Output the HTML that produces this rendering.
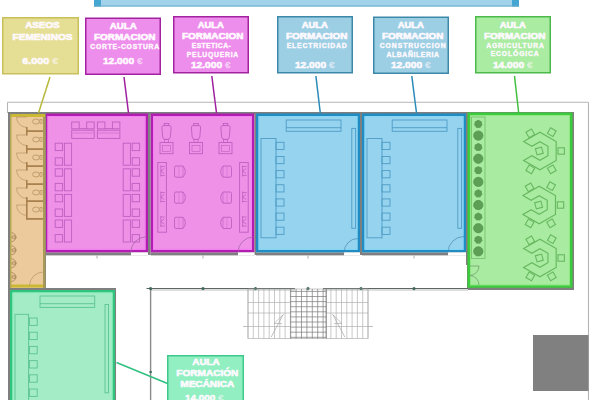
<!DOCTYPE html>
<html><head><meta charset="utf-8"><style>
html,body{margin:0;padding:0;background:#fff;width:600px;height:400px;overflow:hidden}
svg{display:block}
text{font-family:"Liberation Sans",sans-serif;font-weight:bold}
</style></head><body>
<svg width="600" height="400" viewBox="0 0 600 400">
<rect x="94" y="0" width="425" height="6.5" fill="#a2d3ea" stroke="none" stroke-width="1" />
<rect x="94" y="0" width="7" height="6.5" fill="#45a6d2" stroke="none" stroke-width="1" />
<rect x="512" y="0" width="7" height="6.5" fill="#45a6d2" stroke="none" stroke-width="1" />
<line x1="94" y1="6" x2="519" y2="6" stroke="#62a9c9" stroke-width="1" />
<line x1="7.5" y1="102.3" x2="588.5" y2="102.3" stroke="#b4b4b4" stroke-width="1.1" />
<line x1="588.5" y1="102.3" x2="588.5" y2="400" stroke="#b4b4b4" stroke-width="1.1" />
<line x1="7.5" y1="102.3" x2="7.5" y2="113" stroke="#b4b4b4" stroke-width="1.1" />
<rect x="8" y="112" width="565" height="2.5" fill="#7f7f7f" stroke="none" stroke-width="1" />
<rect x="45" y="252.4" width="103" height="3" fill="#7f7f7f" stroke="none" stroke-width="1" />
<rect x="46.25" y="114.75" width="100.5" height="136.4" fill="#ee91e7" stroke="#b01db0" stroke-width="2.5" />
<rect x="48.0" y="116.5" width="97.0" height="132.9" fill="none" stroke="#f77ef5" stroke-width="1" />
<rect x="150.5" y="252.4" width="104.0" height="3" fill="#7f7f7f" stroke="none" stroke-width="1" />
<rect x="151.75" y="114.75" width="101.5" height="136.4" fill="#ee91e7" stroke="#b01db0" stroke-width="2.5" />
<rect x="153.5" y="116.5" width="98.0" height="132.9" fill="none" stroke="#f77ef5" stroke-width="1" />
<rect x="256" y="252.4" width="104" height="3" fill="#7f7f7f" stroke="none" stroke-width="1" />
<rect x="257.25" y="114.75" width="101.5" height="136.4" fill="#95d3ee" stroke="#1f8dc4" stroke-width="2.5" />
<rect x="259.0" y="116.5" width="98.0" height="132.9" fill="none" stroke="#86d6f6" stroke-width="1" />
<rect x="362" y="252.4" width="104" height="3" fill="#7f7f7f" stroke="none" stroke-width="1" />
<rect x="363.25" y="114.75" width="101.5" height="136.4" fill="#95d3ee" stroke="#1f8dc4" stroke-width="2.5" />
<rect x="365.0" y="116.5" width="98.0" height="132.9" fill="none" stroke="#86d6f6" stroke-width="1" />
<rect x="148" y="112" width="2.5" height="143" fill="#7f7f7f" stroke="none" stroke-width="1" />
<rect x="254.5" y="112" width="1.5" height="143" fill="#7f7f7f" stroke="none" stroke-width="1" />
<rect x="360" y="112" width="2" height="143" fill="#7f7f7f" stroke="none" stroke-width="1" />
<rect x="466" y="112" width="1.5" height="153" fill="#7f7f7f" stroke="none" stroke-width="1" />
<rect x="131" y="252.4" width="17" height="3.2" fill="#fff" stroke="none" stroke-width="1" />
<rect x="238" y="252.4" width="16.5" height="3.2" fill="#fff" stroke="none" stroke-width="1" />
<rect x="344" y="252.4" width="16" height="3.2" fill="#fff" stroke="none" stroke-width="1" />
<rect x="448" y="252.4" width="18" height="3.2" fill="#fff" stroke="none" stroke-width="1" />
<rect x="467" y="112" width="107" height="178" fill="#7f7f7f" stroke="none" stroke-width="1" />
<rect x="468.75" y="113.75" width="102.5" height="172.75" fill="#a9eba0" stroke="#3ccb3c" stroke-width="2.5" />
<rect x="470.5" y="115.5" width="99" height="169.25" fill="none" stroke="#8fe784" stroke-width="1" />
<rect x="8" y="112" width="38" height="178" fill="#7f7f7f" stroke="none" stroke-width="1" />
<rect x="10" y="114" width="35" height="174" fill="#ecca9b" stroke="none" stroke-width="1" />
<rect x="10" y="114" width="35" height="3" fill="#cbb934" stroke="none" stroke-width="1" />
<rect x="10" y="284.5" width="35" height="3" fill="#cbb934" stroke="none" stroke-width="1" />
<rect x="10" y="114" width="1.5" height="174" fill="#b8aa50" stroke="none" stroke-width="1" />
<rect x="43" y="117" width="2.5" height="171" fill="#a99a58" stroke="none" stroke-width="1" />
<rect x="8" y="288" width="108" height="115" fill="#7f7f7f" stroke="none" stroke-width="1" />
<rect x="11.25" y="291.25" width="102.5" height="115" fill="#a3ecc5" stroke="#2fc57c" stroke-width="2.5" />
<rect x="13" y="293" width="99" height="115" fill="none" stroke="#8ff0c0" stroke-width="1" />
<rect x="71.7" y="122" width="7.5" height="6.8" fill="none" stroke="#bf5fc0" stroke-width="0.9" />
<rect x="86.7" y="122" width="7.5" height="6.8" fill="none" stroke="#bf5fc0" stroke-width="0.9" />
<line x1="79.2" y1="128.6" x2="86.7" y2="128.6" stroke="#bf5fc0" stroke-width="0.9" />
<rect x="71.7" y="130.2" width="22.5" height="8.2" fill="none" stroke="#bf5fc0" stroke-width="0.9" />
<line x1="72.7" y1="133" x2="93.2" y2="133" stroke="#bf5fc0" stroke-width="0.5" />
<rect x="97.4" y="122" width="7.5" height="6.8" fill="none" stroke="#bf5fc0" stroke-width="0.9" />
<rect x="112.4" y="122" width="7.5" height="6.8" fill="none" stroke="#bf5fc0" stroke-width="0.9" />
<line x1="104.9" y1="128.6" x2="112.4" y2="128.6" stroke="#bf5fc0" stroke-width="0.9" />
<rect x="97.4" y="130.2" width="22.5" height="8.2" fill="none" stroke="#bf5fc0" stroke-width="0.9" />
<line x1="98.4" y1="133" x2="118.9" y2="133" stroke="#bf5fc0" stroke-width="0.5" />
<rect x="55.2" y="143.2" width="7.4" height="7.4" fill="none" stroke="#bf5fc0" stroke-width="0.9" />
<rect x="55.2" y="157.79999999999998" width="7.4" height="7.4" fill="none" stroke="#bf5fc0" stroke-width="0.9" />
<rect x="64.4" y="143.2" width="7.2" height="22" fill="none" stroke="#bf5fc0" stroke-width="0.9" />
<rect x="132.2" y="143.2" width="7.4" height="7.4" fill="none" stroke="#bf5fc0" stroke-width="0.9" />
<rect x="132.2" y="157.79999999999998" width="7.4" height="7.4" fill="none" stroke="#bf5fc0" stroke-width="0.9" />
<rect x="123.2" y="143.2" width="7.2" height="22" fill="none" stroke="#bf5fc0" stroke-width="0.9" />
<rect x="55.2" y="168.79999999999998" width="7.4" height="7.4" fill="none" stroke="#bf5fc0" stroke-width="0.9" />
<rect x="55.2" y="183.39999999999998" width="7.4" height="7.4" fill="none" stroke="#bf5fc0" stroke-width="0.9" />
<rect x="64.4" y="168.79999999999998" width="7.2" height="22" fill="none" stroke="#bf5fc0" stroke-width="0.9" />
<rect x="132.2" y="168.79999999999998" width="7.4" height="7.4" fill="none" stroke="#bf5fc0" stroke-width="0.9" />
<rect x="132.2" y="183.39999999999998" width="7.4" height="7.4" fill="none" stroke="#bf5fc0" stroke-width="0.9" />
<rect x="123.2" y="168.79999999999998" width="7.2" height="22" fill="none" stroke="#bf5fc0" stroke-width="0.9" />
<rect x="55.2" y="194.39999999999998" width="7.4" height="7.4" fill="none" stroke="#bf5fc0" stroke-width="0.9" />
<rect x="55.2" y="208.99999999999997" width="7.4" height="7.4" fill="none" stroke="#bf5fc0" stroke-width="0.9" />
<rect x="64.4" y="194.39999999999998" width="7.2" height="22" fill="none" stroke="#bf5fc0" stroke-width="0.9" />
<rect x="132.2" y="194.39999999999998" width="7.4" height="7.4" fill="none" stroke="#bf5fc0" stroke-width="0.9" />
<rect x="132.2" y="208.99999999999997" width="7.4" height="7.4" fill="none" stroke="#bf5fc0" stroke-width="0.9" />
<rect x="123.2" y="194.39999999999998" width="7.2" height="22" fill="none" stroke="#bf5fc0" stroke-width="0.9" />
<rect x="55.2" y="220.0" width="7.4" height="7.4" fill="none" stroke="#bf5fc0" stroke-width="0.9" />
<rect x="55.2" y="234.6" width="7.4" height="7.4" fill="none" stroke="#bf5fc0" stroke-width="0.9" />
<rect x="64.4" y="220.0" width="7.2" height="22" fill="none" stroke="#bf5fc0" stroke-width="0.9" />
<rect x="132.2" y="220.0" width="7.4" height="7.4" fill="none" stroke="#bf5fc0" stroke-width="0.9" />
<rect x="132.2" y="234.6" width="7.4" height="7.4" fill="none" stroke="#bf5fc0" stroke-width="0.9" />
<rect x="123.2" y="220.0" width="7.2" height="22" fill="none" stroke="#bf5fc0" stroke-width="0.9" />
<rect x="164.2" y="123.5" width="4.6" height="2" fill="none" stroke="#bf5fc0" stroke-width="0.9" />
<path d="M161.9,128 Q161.5,125.6 163.7,125.6 L169.3,125.6 Q171.5,125.6 171.1,128 L170.3,137 Q169.9,139.4 167.9,139.4 L165.1,139.4 Q163.1,139.4 162.7,137 Z" fill="none" stroke="#bf5fc0" stroke-width="0.9" />
<rect x="164.5" y="139.4" width="4" height="3" fill="none" stroke="#bf5fc0" stroke-width="0.7" />
<rect x="160.0" y="142.5" width="13" height="11.2" fill="none" stroke="#bf5fc0" stroke-width="0.9" />
<rect x="162.5" y="145.5" width="8" height="6" fill="none" stroke="#bf5fc0" stroke-width="0.6" />
<rect x="193.7" y="123.5" width="4.6" height="2" fill="none" stroke="#bf5fc0" stroke-width="0.9" />
<path d="M191.4,128 Q191,125.6 193.2,125.6 L198.8,125.6 Q201,125.6 200.6,128 L199.8,137 Q199.4,139.4 197.4,139.4 L194.6,139.4 Q192.6,139.4 192.2,137 Z" fill="none" stroke="#bf5fc0" stroke-width="0.9" />
<rect x="194" y="139.4" width="4" height="3" fill="none" stroke="#bf5fc0" stroke-width="0.7" />
<rect x="189.5" y="142.5" width="13" height="11.2" fill="none" stroke="#bf5fc0" stroke-width="0.9" />
<rect x="192" y="145.5" width="8" height="6" fill="none" stroke="#bf5fc0" stroke-width="0.6" />
<rect x="223.2" y="123.5" width="4.6" height="2" fill="none" stroke="#bf5fc0" stroke-width="0.9" />
<path d="M220.9,128 Q220.5,125.6 222.7,125.6 L228.3,125.6 Q230.5,125.6 230.1,128 L229.3,137 Q228.9,139.4 226.9,139.4 L224.1,139.4 Q222.1,139.4 221.7,137 Z" fill="none" stroke="#bf5fc0" stroke-width="0.9" />
<rect x="223.5" y="139.4" width="4" height="3" fill="none" stroke="#bf5fc0" stroke-width="0.7" />
<rect x="219.0" y="142.5" width="13" height="11.2" fill="none" stroke="#bf5fc0" stroke-width="0.9" />
<rect x="221.5" y="145.5" width="8" height="6" fill="none" stroke="#bf5fc0" stroke-width="0.6" />
<rect x="157.8" y="162.5" width="8.6" height="69.7" fill="none" stroke="#bf5fc0" stroke-width="0.9" />
<path d="M160.8,165.5 L160.8,176.5 M160.8,166.5 L164.8,166.5 M160.8,175.5 L164.8,175.5 M160.8,171 L164.3,168.5 M160.8,171 L164.3,173.5" fill="none" stroke="#bf5fc0" stroke-width="0.8" />
<path d="M160.8,191.5 L160.8,202.5 M160.8,192.5 L164.8,192.5 M160.8,201.5 L164.8,201.5 M160.8,197 L164.3,194.5 M160.8,197 L164.3,199.5" fill="none" stroke="#bf5fc0" stroke-width="0.8" />
<path d="M160.8,216.0 L160.8,227.0 M160.8,217.0 L164.8,217.0 M160.8,226.0 L164.8,226.0 M160.8,221.5 L164.3,219.0 M160.8,221.5 L164.3,224.0" fill="none" stroke="#bf5fc0" stroke-width="0.8" />
<rect x="239.6" y="162.5" width="8.6" height="69.7" fill="none" stroke="#bf5fc0" stroke-width="0.9" />
<path d="M242.6,165.5 L242.6,176.5 M242.6,166.5 L246.6,166.5 M242.6,175.5 L246.6,175.5 M242.6,171 L246.1,168.5 M242.6,171 L246.1,173.5" fill="none" stroke="#bf5fc0" stroke-width="0.8" />
<path d="M242.6,191.5 L242.6,202.5 M242.6,192.5 L246.6,192.5 M242.6,201.5 L246.6,201.5 M242.6,197 L246.1,194.5 M242.6,197 L246.1,199.5" fill="none" stroke="#bf5fc0" stroke-width="0.8" />
<path d="M242.6,216.0 L242.6,227.0 M242.6,217.0 L246.6,217.0 M242.6,226.0 L246.6,226.0 M242.6,221.5 L246.1,219.0 M242.6,221.5 L246.1,224.0" fill="none" stroke="#bf5fc0" stroke-width="0.8" />
<path d="M176.0,166 L183.0,166 Q187.7,171.6 183.0,177.2 L176.0,177.2 Q174.5,177.2 174.5,175.7 L174.5,167.5 Q174.5,166 176.0,166 Z" fill="none" stroke="#bf5fc0" stroke-width="0.9" />
<line x1="183.0" y1="166.5" x2="183.0" y2="176.7" stroke="#bf5fc0" stroke-width="0.6" />
<line x1="179.0" y1="167" x2="179.0" y2="176.2" stroke="#bf5fc0" stroke-width="0.4" />
<path d="M230.0,166 L223.0,166 Q218.3,171.6 223.0,177.2 L230.0,177.2 Q231.5,177.2 231.5,175.7 L231.5,167.5 Q231.5,166 230.0,166 Z" fill="none" stroke="#bf5fc0" stroke-width="0.9" />
<line x1="223.0" y1="166.5" x2="223.0" y2="176.7" stroke="#bf5fc0" stroke-width="0.6" />
<line x1="227.0" y1="167" x2="227.0" y2="176.2" stroke="#bf5fc0" stroke-width="0.4" />
<path d="M176.0,192 L183.0,192 Q187.7,197.6 183.0,203.2 L176.0,203.2 Q174.5,203.2 174.5,201.7 L174.5,193.5 Q174.5,192 176.0,192 Z" fill="none" stroke="#bf5fc0" stroke-width="0.9" />
<line x1="183.0" y1="192.5" x2="183.0" y2="202.7" stroke="#bf5fc0" stroke-width="0.6" />
<line x1="179.0" y1="193" x2="179.0" y2="202.2" stroke="#bf5fc0" stroke-width="0.4" />
<path d="M230.0,192 L223.0,192 Q218.3,197.6 223.0,203.2 L230.0,203.2 Q231.5,203.2 231.5,201.7 L231.5,193.5 Q231.5,192 230.0,192 Z" fill="none" stroke="#bf5fc0" stroke-width="0.9" />
<line x1="223.0" y1="192.5" x2="223.0" y2="202.7" stroke="#bf5fc0" stroke-width="0.6" />
<line x1="227.0" y1="193" x2="227.0" y2="202.2" stroke="#bf5fc0" stroke-width="0.4" />
<path d="M176.0,217.3 L183.0,217.3 Q187.7,222.9 183.0,228.5 L176.0,228.5 Q174.5,228.5 174.5,227.0 L174.5,218.8 Q174.5,217.3 176.0,217.3 Z" fill="none" stroke="#bf5fc0" stroke-width="0.9" />
<line x1="183.0" y1="217.8" x2="183.0" y2="228.0" stroke="#bf5fc0" stroke-width="0.6" />
<line x1="179.0" y1="218.3" x2="179.0" y2="227.5" stroke="#bf5fc0" stroke-width="0.4" />
<path d="M230.0,217.3 L223.0,217.3 Q218.3,222.9 223.0,228.5 L230.0,228.5 Q231.5,228.5 231.5,227.0 L231.5,218.8 Q231.5,217.3 230.0,217.3 Z" fill="none" stroke="#bf5fc0" stroke-width="0.9" />
<line x1="223.0" y1="217.8" x2="223.0" y2="228.0" stroke="#bf5fc0" stroke-width="0.6" />
<line x1="227.0" y1="218.3" x2="227.0" y2="227.5" stroke="#bf5fc0" stroke-width="0.4" />
<rect x="286.2" y="120" width="54.8" height="11.3" fill="none" stroke="#4f9cc6" stroke-width="0.9" />
<line x1="286.2" y1="127.7" x2="341" y2="127.7" stroke="#4f9cc6" stroke-width="0.9" />
<rect x="351.8" y="128.4" width="3.8" height="99.9" fill="none" stroke="#4f9cc6" stroke-width="0.9" />
<rect x="261" y="138.5" width="15" height="99.3" fill="none" stroke="#4f9cc6" stroke-width="0.9" />
<rect x="276" y="142.3" width="8" height="7.2" fill="none" stroke="#4f9cc6" stroke-width="0.9" />
<rect x="276" y="156.45000000000002" width="8" height="7.2" fill="none" stroke="#4f9cc6" stroke-width="0.9" />
<rect x="276" y="170.60000000000002" width="8" height="7.2" fill="none" stroke="#4f9cc6" stroke-width="0.9" />
<rect x="276" y="184.75" width="8" height="7.2" fill="none" stroke="#4f9cc6" stroke-width="0.9" />
<rect x="276" y="198.9" width="8" height="7.2" fill="none" stroke="#4f9cc6" stroke-width="0.9" />
<rect x="276" y="213.05" width="8" height="7.2" fill="none" stroke="#4f9cc6" stroke-width="0.9" />
<rect x="276" y="227.20000000000002" width="8" height="7.2" fill="none" stroke="#4f9cc6" stroke-width="0.9" />
<rect x="392.2" y="120" width="54.8" height="11.3" fill="none" stroke="#4f9cc6" stroke-width="0.9" />
<line x1="392.2" y1="127.7" x2="447" y2="127.7" stroke="#4f9cc6" stroke-width="0.9" />
<rect x="457.8" y="128.4" width="3.8" height="99.9" fill="none" stroke="#4f9cc6" stroke-width="0.9" />
<rect x="367" y="138.5" width="15" height="99.3" fill="none" stroke="#4f9cc6" stroke-width="0.9" />
<rect x="382" y="142.3" width="8" height="7.2" fill="none" stroke="#4f9cc6" stroke-width="0.9" />
<rect x="382" y="156.45000000000002" width="8" height="7.2" fill="none" stroke="#4f9cc6" stroke-width="0.9" />
<rect x="382" y="170.60000000000002" width="8" height="7.2" fill="none" stroke="#4f9cc6" stroke-width="0.9" />
<rect x="382" y="184.75" width="8" height="7.2" fill="none" stroke="#4f9cc6" stroke-width="0.9" />
<rect x="382" y="198.9" width="8" height="7.2" fill="none" stroke="#4f9cc6" stroke-width="0.9" />
<rect x="382" y="213.05" width="8" height="7.2" fill="none" stroke="#4f9cc6" stroke-width="0.9" />
<rect x="382" y="227.20000000000002" width="8" height="7.2" fill="none" stroke="#4f9cc6" stroke-width="0.9" />
<rect x="40" y="296" width="54.7" height="11.4" fill="none" stroke="#5cc394" stroke-width="0.9" />
<line x1="40" y1="303.7" x2="94.7" y2="303.7" stroke="#5cc394" stroke-width="0.9" />
<rect x="105" y="304.5" width="3.5" height="88.3" fill="none" stroke="#5cc394" stroke-width="0.9" />
<rect x="15" y="314.3" width="13.6" height="100" fill="none" stroke="#5cc394" stroke-width="0.9" />
<rect x="29.4" y="318.0" width="7.8" height="7.4" fill="none" stroke="#5cc394" stroke-width="0.9" />
<rect x="29.4" y="332.2" width="7.8" height="7.4" fill="none" stroke="#5cc394" stroke-width="0.9" />
<rect x="29.4" y="346.4" width="7.8" height="7.4" fill="none" stroke="#5cc394" stroke-width="0.9" />
<rect x="29.4" y="360.6" width="7.8" height="7.4" fill="none" stroke="#5cc394" stroke-width="0.9" />
<rect x="29.4" y="374.8" width="7.8" height="7.4" fill="none" stroke="#5cc394" stroke-width="0.9" />
<rect x="29.4" y="389.0" width="7.8" height="7.4" fill="none" stroke="#5cc394" stroke-width="0.9" />
<rect x="471.6" y="117" width="13.4" height="141.4" fill="none" stroke="#68b862" stroke-width="0.7" />
<g fill="#5c9f55"><circle cx="478.30" cy="121.60" r="1.75"/><circle cx="480.18" cy="122.50" r="1.75"/><circle cx="480.64" cy="124.53" r="1.75"/><circle cx="479.34" cy="126.16" r="1.75"/><circle cx="477.26" cy="126.16" r="1.75"/><circle cx="475.96" cy="124.53" r="1.75"/><circle cx="476.42" cy="122.50" r="1.75"/><circle cx="478.3" cy="124.0" r="2.4"/></g>
<circle cx="478.3" cy="135.58" r="4.7" fill="#5c9f55" stroke="#4f8f4a" stroke-width="0.6"/>
<g fill="#5c9f55"><circle cx="478.30" cy="144.76" r="1.75"/><circle cx="480.18" cy="145.66" r="1.75"/><circle cx="480.64" cy="147.69" r="1.75"/><circle cx="479.34" cy="149.32" r="1.75"/><circle cx="477.26" cy="149.32" r="1.75"/><circle cx="475.96" cy="147.69" r="1.75"/><circle cx="476.42" cy="145.66" r="1.75"/><circle cx="478.3" cy="147.16" r="2.4"/></g>
<circle cx="478.3" cy="158.74" r="4.7" fill="#5c9f55" stroke="#4f8f4a" stroke-width="0.6"/>
<g fill="#5c9f55"><circle cx="478.30" cy="167.92" r="1.75"/><circle cx="480.18" cy="168.82" r="1.75"/><circle cx="480.64" cy="170.85" r="1.75"/><circle cx="479.34" cy="172.48" r="1.75"/><circle cx="477.26" cy="172.48" r="1.75"/><circle cx="475.96" cy="170.85" r="1.75"/><circle cx="476.42" cy="168.82" r="1.75"/><circle cx="478.3" cy="170.32" r="2.4"/></g>
<circle cx="478.3" cy="181.9" r="4.7" fill="#5c9f55" stroke="#4f8f4a" stroke-width="0.6"/>
<g fill="#5c9f55"><circle cx="478.30" cy="191.08" r="1.75"/><circle cx="480.18" cy="191.98" r="1.75"/><circle cx="480.64" cy="194.01" r="1.75"/><circle cx="479.34" cy="195.64" r="1.75"/><circle cx="477.26" cy="195.64" r="1.75"/><circle cx="475.96" cy="194.01" r="1.75"/><circle cx="476.42" cy="191.98" r="1.75"/><circle cx="478.3" cy="193.48000000000002" r="2.4"/></g>
<circle cx="478.3" cy="205.06" r="4.7" fill="#5c9f55" stroke="#4f8f4a" stroke-width="0.6"/>
<g fill="#5c9f55"><circle cx="478.30" cy="214.24" r="1.75"/><circle cx="480.18" cy="215.14" r="1.75"/><circle cx="480.64" cy="217.17" r="1.75"/><circle cx="479.34" cy="218.80" r="1.75"/><circle cx="477.26" cy="218.80" r="1.75"/><circle cx="475.96" cy="217.17" r="1.75"/><circle cx="476.42" cy="215.14" r="1.75"/><circle cx="478.3" cy="216.64" r="2.4"/></g>
<circle cx="478.3" cy="228.22" r="4.7" fill="#5c9f55" stroke="#4f8f4a" stroke-width="0.6"/>
<g fill="#5c9f55"><circle cx="478.30" cy="237.40" r="1.75"/><circle cx="480.18" cy="238.30" r="1.75"/><circle cx="480.64" cy="240.33" r="1.75"/><circle cx="479.34" cy="241.96" r="1.75"/><circle cx="477.26" cy="241.96" r="1.75"/><circle cx="475.96" cy="240.33" r="1.75"/><circle cx="476.42" cy="238.30" r="1.75"/><circle cx="478.3" cy="239.8" r="2.4"/></g>
<circle cx="478.3" cy="251.38" r="4.7" fill="#5c9f55" stroke="#4f8f4a" stroke-width="0.6"/>
<path d="M523.62,141.60 L539.90,132.20 L556.18,141.60 L556.18,160.40 L539.90,169.80 L523.62,160.40 L531.85,155.65 L539.90,160.30 L547.95,155.65 L547.95,146.35 L539.90,141.70 L531.85,146.35 Z" fill="none" stroke="#68b862" stroke-width="1.15" />
<rect x="527.10" y="130.20" width="6.4" height="6.4" fill="none" stroke="#68b862" stroke-width="1.1" transform="rotate(-30 530.30 133.40)"/>
<rect x="548.60" y="129.00" width="6.4" height="6.4" fill="none" stroke="#68b862" stroke-width="1.1" transform="rotate(30 551.80 132.20)"/>
<rect x="558.00" y="147.80" width="6.4" height="6.4" fill="none" stroke="#68b862" stroke-width="1.1" transform="rotate(0 561.20 151.00)"/>
<rect x="527.10" y="166.10" width="6.4" height="6.4" fill="none" stroke="#68b862" stroke-width="1.1" transform="rotate(30 530.30 169.30)"/>
<rect x="548.60" y="166.10" width="6.4" height="6.4" fill="none" stroke="#68b862" stroke-width="1.1" transform="rotate(-30 551.80 169.30)"/>
<rect x="536.10" y="147.80" width="6.4" height="6.4" fill="none" stroke="#68b862" stroke-width="1.1" transform="rotate(-15 539.30 151.00)"/>
<path d="M522.92,195.60 L539.20,186.20 L555.48,195.60 L555.48,214.40 L539.20,223.80 L522.92,214.40 L531.15,209.65 L539.20,214.30 L547.25,209.65 L547.25,200.35 L539.20,195.70 L531.15,200.35 Z" fill="none" stroke="#68b862" stroke-width="1.15" />
<rect x="526.40" y="184.20" width="6.4" height="6.4" fill="none" stroke="#68b862" stroke-width="1.1" transform="rotate(-30 529.60 187.40)"/>
<rect x="547.90" y="183.00" width="6.4" height="6.4" fill="none" stroke="#68b862" stroke-width="1.1" transform="rotate(30 551.10 186.20)"/>
<rect x="557.30" y="201.80" width="6.4" height="6.4" fill="none" stroke="#68b862" stroke-width="1.1" transform="rotate(0 560.50 205.00)"/>
<rect x="526.40" y="220.10" width="6.4" height="6.4" fill="none" stroke="#68b862" stroke-width="1.1" transform="rotate(30 529.60 223.30)"/>
<rect x="547.90" y="220.10" width="6.4" height="6.4" fill="none" stroke="#68b862" stroke-width="1.1" transform="rotate(-30 551.10 223.30)"/>
<rect x="535.40" y="201.80" width="6.4" height="6.4" fill="none" stroke="#68b862" stroke-width="1.1" transform="rotate(-15 538.60 205.00)"/>
<path d="M523.62,248.60 L539.90,239.20 L556.18,248.60 L556.18,267.40 L539.90,276.80 L523.62,267.40 L531.85,262.65 L539.90,267.30 L547.95,262.65 L547.95,253.35 L539.90,248.70 L531.85,253.35 Z" fill="none" stroke="#68b862" stroke-width="1.15" />
<rect x="527.10" y="237.20" width="6.4" height="6.4" fill="none" stroke="#68b862" stroke-width="1.1" transform="rotate(-30 530.30 240.40)"/>
<rect x="548.60" y="236.00" width="6.4" height="6.4" fill="none" stroke="#68b862" stroke-width="1.1" transform="rotate(30 551.80 239.20)"/>
<rect x="558.00" y="254.80" width="6.4" height="6.4" fill="none" stroke="#68b862" stroke-width="1.1" transform="rotate(0 561.20 258.00)"/>
<rect x="527.10" y="273.10" width="6.4" height="6.4" fill="none" stroke="#68b862" stroke-width="1.1" transform="rotate(30 530.30 276.30)"/>
<rect x="548.60" y="273.10" width="6.4" height="6.4" fill="none" stroke="#68b862" stroke-width="1.1" transform="rotate(-30 551.80 276.30)"/>
<rect x="536.10" y="254.80" width="6.4" height="6.4" fill="none" stroke="#68b862" stroke-width="1.1" transform="rotate(-15 539.30 258.00)"/>
<ellipse cx="36" cy="121.5" rx="3.4" ry="2.5" fill="none" stroke="#b08a5a" stroke-width="0.7"/>
<rect x="40" y="119.5" width="2" height="4" fill="none" stroke="#b08a5a" stroke-width="0.6" />
<path d="M27,117 L16.5,117 A10.5,10.5 0 0 0 27,127.5" fill="none" stroke="#b8956a" stroke-width="0.7" />
<ellipse cx="36" cy="139.5" rx="3.4" ry="2.5" fill="none" stroke="#b08a5a" stroke-width="0.7"/>
<rect x="40" y="137.5" width="2" height="4" fill="none" stroke="#b08a5a" stroke-width="0.6" />
<path d="M27,135 L16.5,135 A10.5,10.5 0 0 0 27,145.5" fill="none" stroke="#b8956a" stroke-width="0.7" />
<ellipse cx="36" cy="157.5" rx="3.4" ry="2.5" fill="none" stroke="#b08a5a" stroke-width="0.7"/>
<rect x="40" y="155.5" width="2" height="4" fill="none" stroke="#b08a5a" stroke-width="0.6" />
<path d="M27,153 L16.5,153 A10.5,10.5 0 0 0 27,163.5" fill="none" stroke="#b8956a" stroke-width="0.7" />
<ellipse cx="36" cy="174.5" rx="3.4" ry="2.5" fill="none" stroke="#b08a5a" stroke-width="0.7"/>
<rect x="40" y="172.5" width="2" height="4" fill="none" stroke="#b08a5a" stroke-width="0.6" />
<path d="M27,170 L16.5,170 A10.5,10.5 0 0 0 27,180.5" fill="none" stroke="#b8956a" stroke-width="0.7" />
<ellipse cx="36" cy="192.5" rx="3.4" ry="2.5" fill="none" stroke="#b08a5a" stroke-width="0.7"/>
<rect x="40" y="190.5" width="2" height="4" fill="none" stroke="#b08a5a" stroke-width="0.6" />
<path d="M27,188 L16.5,188 A10.5,10.5 0 0 0 27,198.5" fill="none" stroke="#b8956a" stroke-width="0.7" />
<ellipse cx="36" cy="209.5" rx="3.4" ry="2.5" fill="none" stroke="#b08a5a" stroke-width="0.7"/>
<rect x="40" y="207.5" width="2" height="4" fill="none" stroke="#b08a5a" stroke-width="0.6" />
<path d="M27,205 L16.5,205 A10.5,10.5 0 0 0 27,215.5" fill="none" stroke="#b8956a" stroke-width="0.7" />
<rect x="26.5" y="130.2" width="16.5" height="1.8" fill="#a98250" stroke="none" stroke-width="1" />
<rect x="26" y="127" width="1.6" height="8.5" fill="#a98250" stroke="none" stroke-width="1" />
<rect x="26.5" y="148.2" width="16.5" height="1.8" fill="#a98250" stroke="none" stroke-width="1" />
<rect x="26" y="145" width="1.6" height="8.5" fill="#a98250" stroke="none" stroke-width="1" />
<rect x="26.5" y="165.2" width="16.5" height="1.8" fill="#a98250" stroke="none" stroke-width="1" />
<rect x="26" y="162" width="1.6" height="8.5" fill="#a98250" stroke="none" stroke-width="1" />
<rect x="26.5" y="183.2" width="16.5" height="1.8" fill="#a98250" stroke="none" stroke-width="1" />
<rect x="26" y="180" width="1.6" height="8.5" fill="#a98250" stroke="none" stroke-width="1" />
<rect x="26.5" y="200.2" width="16.5" height="1.8" fill="#a98250" stroke="none" stroke-width="1" />
<rect x="26" y="197" width="1.6" height="8.5" fill="#a98250" stroke="none" stroke-width="1" />
<rect x="26" y="205" width="1.6" height="14.5" fill="#a98250" stroke="none" stroke-width="1" />
<rect x="26" y="218" width="17" height="1.8" fill="#a98250" stroke="none" stroke-width="1" />
<path d="M11.5,232.79999999999998 A4.4,4.4 0 0 1 11.5,241.6" fill="none" stroke="#a58058" stroke-width="0.8" />
<circle cx="13.8" cy="237.2" r="1.7" fill="none" stroke="#a58058" stroke-width="0.7"/>
<line x1="11.5" y1="237.2" x2="17" y2="237.2" stroke="#a58058" stroke-width="0.5" />
<path d="M11.5,245.79999999999998 A4.4,4.4 0 0 1 11.5,254.6" fill="none" stroke="#a58058" stroke-width="0.8" />
<circle cx="13.8" cy="250.2" r="1.7" fill="none" stroke="#a58058" stroke-width="0.7"/>
<line x1="11.5" y1="250.2" x2="17" y2="250.2" stroke="#a58058" stroke-width="0.5" />
<path d="M11.5,258.8 A4.4,4.4 0 0 1 11.5,267.59999999999997" fill="none" stroke="#a58058" stroke-width="0.8" />
<circle cx="13.8" cy="263.2" r="1.7" fill="none" stroke="#a58058" stroke-width="0.7"/>
<line x1="11.5" y1="263.2" x2="17" y2="263.2" stroke="#a58058" stroke-width="0.5" />
<path d="M11.5,272.6 A4.4,4.4 0 0 1 11.5,281.4" fill="none" stroke="#a58058" stroke-width="0.8" />
<circle cx="13.8" cy="277" r="1.7" fill="none" stroke="#a58058" stroke-width="0.7"/>
<line x1="11.5" y1="277" x2="17" y2="277" stroke="#a58058" stroke-width="0.5" />
<path d="M130.8,252.5 A15.7,15.7 0 0 1 146.5,236.8" fill="none" stroke="#a0609f" stroke-width="0.7" />
<path d="M238,252.5 A15.5,15.5 0 0 1 253.5,237" fill="none" stroke="#a0609f" stroke-width="0.7" />
<path d="M344,252.5 A14,14 0 0 1 358,238.5" fill="none" stroke="#4a8ab0" stroke-width="0.7" />
<path d="M448,252.5 A16,16 0 0 1 464,236.5" fill="none" stroke="#4a8ab0" stroke-width="0.7" />
<path d="M29.5,286 A14,14 0 0 1 43.5,272" fill="none" stroke="#b8956a" stroke-width="0.7" />
<path d="M470,266 L479,266 A9.5,9.5 0 0 1 470,275.5 A9.5,9.5 0 0 1 479,285" fill="none" stroke="#6a9a6a" stroke-width="0.7" />
<rect x="151" y="289" width="144" height="2" fill="#dedede" stroke="none" stroke-width="1" />
<rect x="323" y="289" width="145" height="2" fill="#dedede" stroke="none" stroke-width="1" />
<line x1="146.5" y1="288.5" x2="295" y2="288.5" stroke="#5e6662" stroke-width="1.1" />
<line x1="323" y1="288.5" x2="468" y2="288.5" stroke="#5e6662" stroke-width="1.1" />
<line x1="150.6" y1="289" x2="150.6" y2="400" stroke="#8a8a8a" stroke-width="1.4" />
<circle cx="150.6" cy="288.6" r="1.6" fill="#3f6a5a"/>
<circle cx="203" cy="288.6" r="1.6" fill="#3f6a5a"/>
<circle cx="255.5" cy="288.6" r="1.6" fill="#3f6a5a"/>
<circle cx="308" cy="288.6" r="1.6" fill="#3f6a5a"/>
<circle cx="361" cy="288.6" r="1.6" fill="#3f6a5a"/>
<circle cx="414" cy="288.6" r="1.6" fill="#3f6a5a"/>
<circle cx="150.6" cy="372" r="1.3" fill="#3f6a5a"/>
<rect x="248" y="289" width="120" height="49.5" fill="none" stroke="#a4a4a4" stroke-width="0.6" />
<line x1="248.0" y1="289" x2="248.0" y2="338.5" stroke="#a4a4a4" stroke-width="0.6" />
<line x1="368.0" y1="289" x2="368.0" y2="338.5" stroke="#a4a4a4" stroke-width="0.6" />
<line x1="253.3" y1="289" x2="253.3" y2="338.5" stroke="#a4a4a4" stroke-width="0.6" />
<line x1="362.7" y1="289" x2="362.7" y2="338.5" stroke="#a4a4a4" stroke-width="0.6" />
<line x1="258.6" y1="289" x2="258.6" y2="338.5" stroke="#a4a4a4" stroke-width="0.6" />
<line x1="357.4" y1="289" x2="357.4" y2="338.5" stroke="#a4a4a4" stroke-width="0.6" />
<line x1="263.9" y1="289" x2="263.9" y2="338.5" stroke="#a4a4a4" stroke-width="0.6" />
<line x1="352.1" y1="289" x2="352.1" y2="338.5" stroke="#a4a4a4" stroke-width="0.6" />
<line x1="269.2" y1="289" x2="269.2" y2="338.5" stroke="#a4a4a4" stroke-width="0.6" />
<line x1="346.8" y1="289" x2="346.8" y2="338.5" stroke="#a4a4a4" stroke-width="0.6" />
<line x1="274.5" y1="289" x2="274.5" y2="338.5" stroke="#a4a4a4" stroke-width="0.6" />
<line x1="341.5" y1="289" x2="341.5" y2="338.5" stroke="#a4a4a4" stroke-width="0.6" />
<line x1="279.8" y1="289" x2="279.8" y2="338.5" stroke="#a4a4a4" stroke-width="0.6" />
<line x1="336.2" y1="289" x2="336.2" y2="338.5" stroke="#a4a4a4" stroke-width="0.6" />
<line x1="285.1" y1="289" x2="285.1" y2="338.5" stroke="#a4a4a4" stroke-width="0.6" />
<line x1="330.9" y1="289" x2="330.9" y2="338.5" stroke="#a4a4a4" stroke-width="0.6" />
<line x1="290.4" y1="289" x2="290.4" y2="338.5" stroke="#a4a4a4" stroke-width="0.6" />
<line x1="325.6" y1="289" x2="325.6" y2="338.5" stroke="#a4a4a4" stroke-width="0.6" />
<line x1="248" y1="302.5" x2="290.4" y2="302.5" stroke="#a4a4a4" stroke-width="0.6" />
<line x1="326" y1="302.5" x2="368" y2="302.5" stroke="#a4a4a4" stroke-width="0.6" />
<line x1="248" y1="313" x2="290.4" y2="313" stroke="#a4a4a4" stroke-width="0.6" />
<line x1="326" y1="313" x2="368" y2="313" stroke="#a4a4a4" stroke-width="0.6" />
<line x1="248" y1="326.5" x2="290.4" y2="326.5" stroke="#a4a4a4" stroke-width="0.6" />
<line x1="326" y1="326.5" x2="368" y2="326.5" stroke="#a4a4a4" stroke-width="0.6" />
<line x1="290.4" y1="291.4" x2="326.5" y2="291.4" stroke="#7a7a7a" stroke-width="0.7" />
<line x1="290.4" y1="296.5" x2="326.5" y2="296.5" stroke="#7a7a7a" stroke-width="0.7" />
<line x1="290.4" y1="301.59999999999997" x2="326.5" y2="301.59999999999997" stroke="#7a7a7a" stroke-width="0.7" />
<line x1="290.4" y1="306.7" x2="326.5" y2="306.7" stroke="#7a7a7a" stroke-width="0.7" />
<line x1="290.4" y1="311.79999999999995" x2="326.5" y2="311.79999999999995" stroke="#7a7a7a" stroke-width="0.7" />
<line x1="290.4" y1="316.9" x2="326.5" y2="316.9" stroke="#7a7a7a" stroke-width="0.7" />
<line x1="290.4" y1="322.0" x2="326.5" y2="322.0" stroke="#7a7a7a" stroke-width="0.7" />
<line x1="290.4" y1="327.09999999999997" x2="326.5" y2="327.09999999999997" stroke="#7a7a7a" stroke-width="0.7" />
<line x1="290.4" y1="332.2" x2="326.5" y2="332.2" stroke="#7a7a7a" stroke-width="0.7" />
<line x1="290.4" y1="337.29999999999995" x2="326.5" y2="337.29999999999995" stroke="#7a7a7a" stroke-width="0.7" />
<line x1="290.7" y1="289" x2="290.7" y2="338.5" stroke="#7a7a7a" stroke-width="0.7" />
<line x1="296.09999999999997" y1="289" x2="296.09999999999997" y2="338.5" stroke="#7a7a7a" stroke-width="0.7" />
<line x1="301.5" y1="289" x2="301.5" y2="338.5" stroke="#7a7a7a" stroke-width="0.7" />
<line x1="306.9" y1="289" x2="306.9" y2="338.5" stroke="#7a7a7a" stroke-width="0.7" />
<line x1="312.3" y1="289" x2="312.3" y2="338.5" stroke="#7a7a7a" stroke-width="0.7" />
<line x1="317.7" y1="289" x2="317.7" y2="338.5" stroke="#7a7a7a" stroke-width="0.7" />
<line x1="323.1" y1="289" x2="323.1" y2="338.5" stroke="#7a7a7a" stroke-width="0.7" />
<line x1="326.5" y1="289" x2="326.5" y2="338.5" stroke="#7a7a7a" stroke-width="0.7" />
<path d="M283.5,314.5 L274,323.5 L282,323.5" fill="none" stroke="#a4a4a4" stroke-width="0.6" />
<path d="M332.5,314.5 L342,323.5 L334,323.5" fill="none" stroke="#a4a4a4" stroke-width="0.6" />
<line x1="271.2" y1="337" x2="283.2" y2="314.5" stroke="#a4a4a4" stroke-width="0.7" />
<line x1="344.8" y1="337" x2="332.8" y2="314.5" stroke="#a4a4a4" stroke-width="0.7" />
<line x1="243" y1="326.5" x2="248" y2="326.5" stroke="#a4a4a4" stroke-width="0.7" />
<line x1="368" y1="326.5" x2="373" y2="326.5" stroke="#a4a4a4" stroke-width="0.7" />
<line x1="97" y1="255.5" x2="97" y2="258.5" stroke="#9a9a9a" stroke-width="0.8" />
<line x1="203" y1="255.5" x2="203" y2="258.5" stroke="#9a9a9a" stroke-width="0.8" />
<line x1="308" y1="255.5" x2="308" y2="258.5" stroke="#9a9a9a" stroke-width="0.8" />
<line x1="414" y1="255.5" x2="414" y2="258.5" stroke="#9a9a9a" stroke-width="0.8" />
<rect x="533" y="335" width="55.5" height="56" fill="#808080" stroke="none" stroke-width="1" />
<rect x="2.75" y="17.75" width="75.5" height="56.0" fill="#e5df96" stroke="#c9c05a" stroke-width="1.5" />
<rect x="85.75" y="18.25" width="74.5" height="56.0" fill="#ee8eec" stroke="#a3229f" stroke-width="1.5" />
<rect x="173.75" y="16.75" width="74.5" height="56.0" fill="#ee8eec" stroke="#a3229f" stroke-width="1.5" />
<rect x="277.75" y="16.75" width="74.5" height="56.0" fill="#9dcfe4" stroke="#3c88a9" stroke-width="1.5" />
<rect x="373.75" y="17.25" width="74.5" height="56.0" fill="#9dcfe4" stroke="#3c88a9" stroke-width="1.5" />
<rect x="475.75" y="16.75" width="74.5" height="56.0" fill="#a9eca2" stroke="#4cba4a" stroke-width="1.5" />
<rect x="167.75" y="355.75" width="75.5" height="63.5" fill="#91efc2" stroke="#3ec98c" stroke-width="1.5" />
<line x1="50" y1="77" x2="38.5" y2="113" stroke="#b8b83a" stroke-width="1.5" />
<line x1="124" y1="77" x2="128.5" y2="113" stroke="#a020a0" stroke-width="1.5" />
<line x1="211.8" y1="76" x2="216.5" y2="113" stroke="#a020a0" stroke-width="1.5" />
<line x1="315.9" y1="76" x2="320.3" y2="113" stroke="#2a8ab8" stroke-width="1.5" />
<line x1="411.8" y1="76" x2="416.5" y2="113" stroke="#2a8ab8" stroke-width="1.5" />
<line x1="514.5" y1="76" x2="518.7" y2="113" stroke="#40c040" stroke-width="1.5" />
<line x1="116.5" y1="362.5" x2="167.5" y2="383.5" stroke="#30c080" stroke-width="1.5" />
<text x="42.45" y="28.3" font-size="9.1" fill="#fffaff" text-anchor="middle" textLength="34.5" lengthAdjust="spacingAndGlyphs" stroke="#fffaff" stroke-width="0.6">ASEOS</text>
<text x="42.5" y="39.7" font-size="9.1" fill="#fffaff" text-anchor="middle" textLength="60" lengthAdjust="spacingAndGlyphs" stroke="#fffaff" stroke-width="0.6">FEMENINOS</text>
<text x="40.2" y="64" font-size="9.2" fill="#fffaff" text-anchor="middle" textLength="36" lengthAdjust="spacingAndGlyphs" stroke="#fffaff" stroke-width="0.5">6.000 <tspan fill-opacity="0.5" stroke-opacity="0.3">€</tspan></text>
<text x="123.2" y="28.7" font-size="9.1" fill="#fffaff" text-anchor="middle" textLength="27" lengthAdjust="spacingAndGlyphs" stroke="#fffaff" stroke-width="0.6">AULA</text>
<text x="124.7" y="40" font-size="9.1" fill="#fffaff" text-anchor="middle" textLength="61.5" lengthAdjust="spacingAndGlyphs" stroke="#fffaff" stroke-width="0.6">FORMACION</text>
<text x="124.7" y="48.7" font-size="6.8" fill="#fffaff" text-anchor="middle" textLength="69" lengthAdjust="spacing" stroke="#fffaff" stroke-width="0.35">CORTE-COSTURA</text>
<text x="122.8" y="64.3" font-size="9.2" fill="#fffaff" text-anchor="middle" textLength="39.7" lengthAdjust="spacingAndGlyphs" stroke="#fffaff" stroke-width="0.5">12.000 <tspan fill-opacity="0.5" stroke-opacity="0.3">€</tspan></text>
<text x="210.8" y="27.5" font-size="9.1" fill="#fffaff" text-anchor="middle" textLength="26.3" lengthAdjust="spacingAndGlyphs" stroke="#fffaff" stroke-width="0.6">AULA</text>
<text x="212.7" y="38.7" font-size="9.1" fill="#fffaff" text-anchor="middle" textLength="61.5" lengthAdjust="spacingAndGlyphs" stroke="#fffaff" stroke-width="0.6">FORMACION</text>
<text x="211.2" y="48.2" font-size="6.8" fill="#fffaff" text-anchor="middle" textLength="39" lengthAdjust="spacing" stroke="#fffaff" stroke-width="0.35">ESTETICA-</text>
<text x="212.5" y="56.7" font-size="6.8" fill="#fffaff" text-anchor="middle" textLength="51.4" lengthAdjust="spacing" stroke="#fffaff" stroke-width="0.35">PELUQUERIA</text>
<text x="210.8" y="67.7" font-size="9.2" fill="#fffaff" text-anchor="middle" textLength="39.7" lengthAdjust="spacingAndGlyphs" stroke="#fffaff" stroke-width="0.5">12.000 <tspan fill-opacity="0.5" stroke-opacity="0.3">€</tspan></text>
<text x="314.8" y="27.5" font-size="9.1" fill="#fffaff" text-anchor="middle" textLength="26.3" lengthAdjust="spacingAndGlyphs" stroke="#fffaff" stroke-width="0.6">AULA</text>
<text x="316.7" y="38.7" font-size="9.1" fill="#fffaff" text-anchor="middle" textLength="61.5" lengthAdjust="spacingAndGlyphs" stroke="#fffaff" stroke-width="0.6">FORMACION</text>
<text x="316.7" y="47.7" font-size="6.8" fill="#fffaff" text-anchor="middle" textLength="60" lengthAdjust="spacing" stroke="#fffaff" stroke-width="0.35">ELECTRICIDAD</text>
<text x="314.8" y="67.7" font-size="9.2" fill="#fffaff" text-anchor="middle" textLength="39.7" lengthAdjust="spacingAndGlyphs" stroke="#fffaff" stroke-width="0.5">12.000 <tspan fill-opacity="0.5" stroke-opacity="0.3">€</tspan></text>
<text x="410.8" y="27.5" font-size="9.1" fill="#fffaff" text-anchor="middle" textLength="26.3" lengthAdjust="spacingAndGlyphs" stroke="#fffaff" stroke-width="0.6">AULA</text>
<text x="412.7" y="38.7" font-size="9.1" fill="#fffaff" text-anchor="middle" textLength="61.5" lengthAdjust="spacingAndGlyphs" stroke="#fffaff" stroke-width="0.6">FORMACION</text>
<text x="412.7" y="48.2" font-size="6.8" fill="#fffaff" text-anchor="middle" textLength="66" lengthAdjust="spacing" stroke="#fffaff" stroke-width="0.35">CONSTRUCCION</text>
<text x="412.7" y="57.2" font-size="6.8" fill="#fffaff" text-anchor="middle" textLength="52.5" lengthAdjust="spacing" stroke="#fffaff" stroke-width="0.35">ALBAÑILERIA</text>
<text x="410.8" y="67.7" font-size="9.2" fill="#fffaff" text-anchor="middle" textLength="39.7" lengthAdjust="spacingAndGlyphs" stroke="#fffaff" stroke-width="0.5">12.000 <tspan fill-opacity="0.5" stroke-opacity="0.3">€</tspan></text>
<text x="512.8" y="27.5" font-size="9.1" fill="#fffaff" text-anchor="middle" textLength="26.3" lengthAdjust="spacingAndGlyphs" stroke="#fffaff" stroke-width="0.6">AULA</text>
<text x="514.7" y="38.7" font-size="9.1" fill="#fffaff" text-anchor="middle" textLength="61.5" lengthAdjust="spacingAndGlyphs" stroke="#fffaff" stroke-width="0.6">FORMACION</text>
<text x="515.1" y="47.7" font-size="6.8" fill="#fffaff" text-anchor="middle" textLength="57.8" lengthAdjust="spacing" stroke="#fffaff" stroke-width="0.35">AGRICULTURA</text>
<text x="514.7" y="56.3" font-size="6.8" fill="#fffaff" text-anchor="middle" textLength="48" lengthAdjust="spacing" stroke="#fffaff" stroke-width="0.35">ECOLÓGICA</text>
<text x="512.8" y="67.7" font-size="9.2" fill="#fffaff" text-anchor="middle" textLength="39.7" lengthAdjust="spacingAndGlyphs" stroke="#fffaff" stroke-width="0.5">14.000 <tspan fill-opacity="0.5" stroke-opacity="0.3">€</tspan></text>
<text x="206" y="365.3" font-size="9.1" fill="#fffaff" text-anchor="middle" textLength="27.4" lengthAdjust="spacingAndGlyphs" stroke="#fffaff" stroke-width="0.6">AULA</text>
<text x="207.3" y="376.4" font-size="9.1" fill="#fffaff" text-anchor="middle" textLength="62" lengthAdjust="spacingAndGlyphs" stroke="#fffaff" stroke-width="0.6">FORMACIÓN</text>
<text x="207.3" y="387.3" font-size="9.1" fill="#fffaff" text-anchor="middle" textLength="54" lengthAdjust="spacingAndGlyphs" stroke="#fffaff" stroke-width="0.6">MECÁNICA</text>
<text x="204.3" y="400.5" font-size="9.2" fill="#fffaff" text-anchor="middle" textLength="38.7" lengthAdjust="spacingAndGlyphs" stroke="#fffaff" stroke-width="0.5">14.000 <tspan fill-opacity="0.5" stroke-opacity="0.3">€</tspan></text>
</svg>
</body></html>
